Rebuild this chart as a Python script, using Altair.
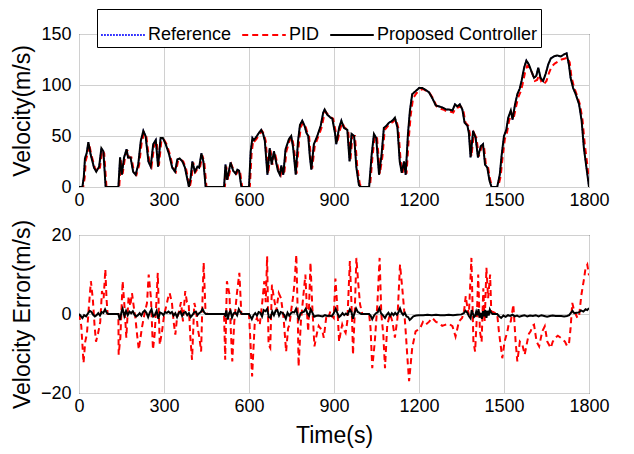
import altair as alt
import pandas as pd

# ---------------- data ----------------
series_names = ["Reference", "PID", "Proposed Controller"]
x_ticks = [0, 300, 600, 900, 1200, 1500, 1800]
v_ticks = [0, 50, 100, 150]
e_ticks = [-20, 0, 20]

ref_t = [0, 12, 17, 21, 27, 33, 41, 53, 61, 71,
         79, 86, 94, 139, 145, 151, 159, 168, 173, 182,
         191, 200, 209, 218, 227, 235, 245, 253, 262, 271,
         279, 288, 296, 306, 318, 329, 339, 347, 355, 365,
         374, 388, 394, 400, 409, 418, 424, 432, 439, 447,
         512, 517, 523, 535, 544, 553, 559, 565, 573, 600,
         606, 612, 617, 623, 635, 643, 650, 656, 665, 673,
         680, 688, 696, 702, 709, 714, 721, 729, 741, 749,
         756, 765, 773, 780, 788, 796, 803, 809, 815, 820,
         829, 841, 853, 862, 867, 876, 888, 894, 904, 908,
         918, 926, 935, 947, 955, 962, 971, 979, 988, 994,
         1024, 1033, 1041, 1049, 1059, 1068, 1076, 1085, 1094, 1106,
         1115, 1124, 1132, 1139, 1147, 1153, 1161, 1168, 1176, 1188,
         1200, 1212, 1224, 1235, 1249, 1259, 1271, 1282, 1296, 1306,
         1318, 1327, 1335, 1344, 1353, 1361, 1371, 1376, 1382, 1391,
         1400, 1408, 1418, 1426, 1433, 1441, 1449, 1456, 1476, 1485,
         1492, 1500, 1508, 1515, 1524, 1530, 1539, 1547, 1555, 1562,
         1571, 1579, 1588, 1596, 1606, 1614, 1621, 1629, 1638, 1647,
         1656, 1665, 1676, 1688, 1700, 1712, 1721, 1729, 1735, 1744,
         1753, 1765, 1774, 1782, 1791, 1800]
ref_v = [0, 0, 10, 28, 33, 44, 32, 19, 15, 20,
         38, 35, 0, 0, 29, 12, 29, 37, 29, 29,
         15, 12, 22, 45, 55, 50, 25, 20, 42, 46,
         20, 48, 48, 42, 32, 19, 15, 27, 28, 25,
         19, 0, 9, 25, 15, 20, 19, 33, 25, 0,
         0, 22, 7, 24, 16, 13, 17, 16, 0, 0,
         35, 48, 46, 48, 53, 56, 52, 45, 12, 38,
         22, 35, 24, 16, 12, 21, 12, 37, 47, 50,
         38, 12, 45, 61, 65, 60, 53, 50, 29, 17,
         42, 50, 60, 73, 76, 71, 68, 67, 52, 42,
         58, 65, 58, 56, 25, 52, 50, 19, 2, 0,
         0, 32, 52, 48, 12, 32, 58, 60, 63, 65,
         68, 58, 25, 14, 25, 12, 52, 75, 91, 94,
         97, 97, 95, 93, 86, 80, 79, 78, 76, 76,
         75, 81, 79, 81, 76, 63, 60, 53, 29, 55,
         48, 29, 40, 42, 22, 19, 6, 0, 0, 12,
         32, 50, 56, 68, 75, 66, 81, 91, 96, 104,
         117, 124, 120, 114, 107, 109, 117, 107, 104, 111,
         120, 126, 128, 129, 128, 130, 131, 120, 107, 97,
         91, 81, 65, 38, 19, 0]
prop_v = [0, 0, 10, 28, 33, 44, 32, 19, 15, 20,
          38, 35, 0, 0, 29, 12, 29, 37, 29, 29,
          15, 12, 22, 45, 55, 50, 25, 20, 42, 46,
          20, 48, 48, 42, 32, 19, 15, 27, 28, 25,
          19, 0, 9, 25, 15, 20, 19, 33, 25, 0,
          0, 22, 7, 24, 16, 13, 17, 16, 0, 0,
          35, 48, 46, 48, 53, 56, 52, 45, 12, 38,
          22, 35, 24, 16, 12, 21, 12, 37, 47, 50,
          38, 12, 45, 61, 65, 60, 53, 50, 29, 17,
          42, 50, 60, 73, 76, 71, 68, 67, 52, 42,
          58, 65, 58, 56, 25, 52, 50, 19, 2, 0,
          0, 32, 52, 48, 12, 32, 58, 60, 63, 65,
          68, 58, 25, 14, 25, 12, 52, 75, 91, 94,
          97, 97, 95, 93, 86, 80, 79, 78, 76, 76,
          75, 81, 79, 81, 76, 63, 60, 53, 29, 55,
          48, 29, 40, 42, 22, 19, 6, 0, 0, 12,
          32, 50, 56, 68, 75, 66, 81, 91, 96, 104,
          117, 124, 120, 114, 107, 109, 117, 107, 104, 111,
          120, 126, 128, 129, 128, 130, 131, 120, 107, 97,
          91, 81, 65, 38, 19, 0]

pid_t = [0, 15, 20, 24, 30, 36, 44, 56, 64, 74,
         82, 89, 97, 142, 148, 154, 162, 171, 176, 185,
         194, 203, 212, 221, 230, 238, 248, 256, 265, 274,
         282, 291, 299, 309, 321, 332, 342, 350, 358, 368,
         377, 391, 397, 403, 412, 421, 427, 435, 442, 450,
         515, 520, 526, 538, 547, 556, 562, 568, 576, 603,
         609, 615, 620, 626, 638, 646, 653, 659, 668, 676,
         683, 691, 699, 705, 712, 717, 724, 732, 744, 752,
         759, 768, 776, 783, 791, 799, 806, 812, 818, 823,
         832, 844, 856, 865, 870, 879, 891, 897, 907, 911,
         921, 929, 938, 950, 958, 965, 974, 982, 991, 997,
         1027, 1036, 1044, 1052, 1062, 1071, 1079, 1088, 1097, 1109,
         1118, 1127, 1135, 1142, 1150, 1156, 1164, 1171, 1179, 1191,
         1203, 1215, 1227, 1238, 1252, 1262, 1274, 1285, 1299, 1309,
         1321, 1330, 1338, 1347, 1356, 1364, 1374, 1379, 1385, 1394,
         1403, 1411, 1421, 1429, 1436, 1444, 1452, 1459, 1479, 1488,
         1495, 1503, 1511, 1518, 1527, 1533, 1542, 1550, 1558, 1565,
         1574, 1582, 1591, 1599, 1609, 1617, 1624, 1632, 1641, 1650,
         1659, 1668, 1679, 1691, 1703, 1715, 1724, 1732, 1738, 1747,
         1756, 1768, 1777, 1785, 1794, 1800]
pid_v = [0, 0, 9, 26, 32, 42, 31, 19, 15, 19,
         36, 33, 0, 0, 27, 13, 28, 36, 29, 29,
         15, 12, 21, 43, 53, 49, 25, 20, 40, 45,
         21, 46, 47, 42, 32, 19, 15, 26, 27, 25,
         19, 0, 8, 24, 15, 19, 19, 31, 25, 0,
         0, 20, 7, 22, 16, 13, 16, 16, 0, 0,
         32, 46, 45, 47, 52, 55, 52, 45, 13, 36,
         22, 34, 24, 16, 12, 20, 12, 35, 46, 49,
         38, 13, 43, 59, 63, 60, 53, 50, 30, 18,
         40, 49, 58, 70, 74, 71, 68, 67, 53, 43,
         56, 63, 58, 56, 26, 50, 50, 20, 3, 0,
         0, 30, 50, 48, 13, 30, 56, 59, 62, 64,
         67, 58, 26, 14, 24, 13, 48, 71, 87, 92,
         95, 96, 94, 92, 86, 79, 77, 76, 74, 74,
         73, 78, 78, 79, 76, 63, 60, 53, 30, 53,
         48, 30, 39, 41, 22, 19, 6, 0, 0, 10,
         29, 47, 54, 65, 72, 66, 78, 88, 93, 100,
         112, 119, 117, 112, 104, 105, 110, 103, 101, 104,
         112, 118, 121, 123, 125, 126, 127, 122, 108, 98,
         91, 81, 66, 42, 22, 5]

pid_err_t = [0, 8, 16, 22, 28, 35, 42, 49, 55, 60,
             67, 75, 81, 87, 93, 97, 101, 139, 140, 146,
             154, 161, 167, 175, 181, 187, 193, 199, 205, 211,
             217, 222, 231, 240, 246, 254, 261, 267, 273, 278,
             285, 293, 301, 308, 314, 320, 328, 334, 340, 346,
             352, 360, 367, 375, 381, 387, 393, 399, 407, 413,
             419, 425, 431, 436, 440, 446, 452, 512, 516, 522,
             531, 536, 541, 548, 557, 566, 573, 600, 605, 611,
             620, 628, 638, 646, 654, 659, 664, 669, 675, 681,
             687, 696, 705, 713, 722, 731, 738, 743, 749, 755,
             760, 767, 772, 775, 783, 791, 799, 805, 809, 817,
             823, 831, 840, 846, 852, 858, 864, 873, 880, 887,
             893, 899, 905, 912, 918, 924, 929, 935, 941, 947,
             956, 961, 965, 967, 973, 979, 985, 992, 1000, 1024,
             1029, 1035, 1044, 1053, 1061, 1067, 1074, 1080, 1088, 1098,
             1106, 1115, 1124, 1133, 1141, 1147, 1153, 1159, 1165, 1176,
             1188, 1204, 1214, 1224, 1235, 1247, 1260, 1271, 1282, 1294,
             1306, 1318, 1329, 1341, 1352, 1359, 1365, 1370, 1376, 1385,
             1392, 1398, 1404, 1409, 1415, 1421, 1427, 1432, 1438, 1444,
             1451, 1455, 1476, 1482, 1494, 1502, 1512, 1518, 1524, 1533,
             1541, 1547, 1556, 1565, 1573, 1582, 1588, 1594, 1600, 1606,
             1615, 1624, 1635, 1644, 1653, 1665, 1672, 1682, 1690, 1700,
             1708, 1715, 1722, 1729, 1735, 1741, 1747, 1753, 1759, 1765,
             1773, 1782, 1788, 1794, 1800]
pid_err_v = [0, -3, -12.4, -7, -5, 2, 8.3, 3.6, -3, -7,
             -5, -2, 5.8, 4, 11.3, 4, 0, 0, -10.3, -6,
             8.3, 1.5, -6, 4.5, 2, 5.3, 2, -1, -5.2, -9,
             -6, -3.5, 0, 2.8, 10, 4, -9, -5.2, 3, 10.4,
             -7.8, -4.4, 0, 2, 4, 5.3, 2.8, -2, -5.2, -1,
             0.3, 3, -1.9, 5.8, 3, 2.8, -6, -11.6, 2.8, 1,
             -3.6, -6, -9.5, 4, 13, 1.5, 0, 0, -11.6, 8.3,
             5, -4.4, -12, -2, 5, 10.4, 0, 0, -7, -15.8,
             -2.7, -1, -2.7, 2.4, 8.3, 3, 14.6, -7.8, -8.6, 7.4,
             4.5, 0.7, 5.3, 4, -1, -9.5, -3.6, -2.7, 1, 4,
             7.4, 15, 0, -13.3, -2, 4, 10, 0, -4.4, 13,
             2.4, -8.2, -4.8, -3, -3.6, -4, -6, -0.6, -1, 0.7,
             -0.5, -1, 9, 1.5, -7, -4.4, -2.7, -4, -4.8, -1.9,
             13.4, 4, -4.4, -10.3, 0, 14.2, 8.3, 2.4, 0, 0,
             -3.6, -13.7, -7, 2.4, 14.2, 0, -5.2, -13.7, -2.7, 0,
             -1.9, -6, -1, 12.5, 6.5, 1.5, -4.4, -11, -17, -8.6,
             -4.4, -3.6, -2, -2.7, -2, -1, -2, -2.3, -3, -2.7,
             -2.5, -3.1, -5.7, -1.9, -1, 0.7, 4.5, 2, -0.2, 14.2,
             -7, -9.5, -1, 10, -4.4, -7, 6.5, -1.9, 11.7, 4,
             10, 0.7, 0, -4.4, -11.2, -7, -4.4, -2, -1.9, 2.4,
             -7, -12, -7, -7.8, -10.3, -7, -5, -4.4, -3, -2.7,
             -7, -8.2, -4.4, -3.1, -7, -8.6, -7, -6, -5.5, -6,
             -6.5, -7, -8, -7.8, -3.6, 2.8, 1, 0, -1, -0.6,
             4.8, 8.7, 11.7, 12.5, 9.8]

prop_err_t = [0, 6, 12, 18, 25, 32, 38, 44, 50, 56,
              62, 68, 74, 80, 86, 92, 98, 104, 139, 144,
              150, 154, 160, 166, 172, 178, 184, 190, 196, 202,
              208, 214, 220, 226, 232, 238, 244, 250, 256, 262,
              268, 274, 280, 286, 292, 298, 304, 310, 316, 322,
              328, 334, 340, 346, 352, 358, 364, 370, 376, 382,
              388, 394, 400, 406, 412, 418, 424, 430, 436, 442,
              448, 512, 516, 520, 525, 530, 535, 540, 546, 552,
              558, 564, 570, 575, 600, 605, 610, 616, 622, 628,
              634, 640, 646, 652, 658, 664, 670, 676, 682, 688,
              694, 700, 706, 712, 718, 724, 730, 736, 742, 748,
              754, 760, 766, 772, 776, 782, 788, 794, 800, 806,
              812, 818, 824, 830, 836, 844, 852, 860, 868, 876,
              884, 892, 900, 906, 912, 918, 924, 930, 936, 942,
              948, 956, 962, 967, 972, 978, 984, 990, 996, 1024,
              1030, 1035, 1042, 1048, 1054, 1060, 1066, 1072, 1080, 1086,
              1092, 1098, 1104, 1110, 1116, 1122, 1128, 1133, 1138, 1144,
              1150, 1156, 1162, 1167, 1172, 1180, 1190, 1200, 1215, 1230,
              1245, 1260, 1275, 1290, 1305, 1320, 1335, 1350, 1358, 1364,
              1370, 1376, 1382, 1386, 1390, 1394, 1398, 1402, 1406, 1410,
              1414, 1418, 1422, 1426, 1430, 1434, 1438, 1442, 1446, 1450,
              1455, 1460, 1476, 1482, 1490, 1498, 1506, 1514, 1522, 1530,
              1538, 1546, 1554, 1562, 1572, 1582, 1592, 1602, 1612, 1622,
              1632, 1642, 1652, 1662, 1672, 1682, 1692, 1702, 1712, 1722,
              1730, 1736, 1742, 1748, 1756, 1764, 1772, 1780, 1788, 1794,
              1800]
prop_err_v = [0, -0.5, -1.0, -0.3, -0.6, 0.2, 0.8, 0.5, -0.2, -0.6,
              -0.3, 0.2, -0.4, 0.5, 0.3, 1.2, 0.3, 0, 0, -1.5,
              0.5, 1.3, -0.5, 0.8, -0.3, 0.6, 0.2, 0.7, -0.2, -0.6,
              -0.3, 0.2, -0.4, 0.5, 0.9, 0.3, -0.8, 0.4, 1.2, -0.6,
              -0.2, 0.8, -1.2, 0.4, 0.2, -0.3, 0.5, 0.3, 0.6, 0.2,
              0.5, -0.4, 0.2, -0.8, 0.3, 0.6, -0.5, 0.3, 0.5, -0.3,
              0.2, -0.8, -0.3, 0.4, 0.6, -0.3, 0.2, 0.5, 1.3, 0.4,
              0, 0, -0.4, 0.9, -1.4, 0.3, 0.8, -0.9, 0.2, 0.4,
              -0.3, 1.2, 0.4, 0, 0, -0.6, -1.3, -0.3, 0.2, -0.4,
              0.5, 0.3, -0.6, 1.0, 0.7, 1.3, -0.8, -1.0, 0.6, -0.3,
              0.8, 1.0, -0.4, 0.5, 0.3, -0.2, -1.2, 0.3, -0.4, 0.2,
              0.5, 0.4, 1.3, -0.4, -1.2, 0.2, 0.4, 0.6, 1.3, 0.2,
              -0.4, 1.2, 0.3, -0.7, -0.5, -0.4, -0.5, -0.6, -0.3, -0.5,
              -0.4, -0.6, 0.3, 1.3, 0.2, -0.8, -0.4, 0.2, -0.3, 0.1,
              -0.2, 1.2, 0.4, -1.2, 0.2, 1.4, 0.5, 0.3, 0, 0,
              -0.5, -1.3, -0.3, 0.2, 0.4, 1.5, 0.2, -0.3, -1.0, -0.2,
              0.3, -0.5, 0.2, -0.3, 0.3, -0.2, 0.5, 1.4, 0.4, -0.2,
              0.3, -0.6, -0.8, -1.5, -1.2, -0.6, -0.4, -0.3, -0.3, -0.2,
              -0.3, -0.2, -0.3, -0.3, -0.2, -0.3, -0.2, -0.1, 0.2, 0.8,
              0.4, -0.5, -1.1, 1.0, 0.2, -0.8, -0.5, 0.6, -0.3, 1.2,
              -0.9, 0.3, -1.2, 0.7, -0.6, 1.0, -1.0, 0.8, -0.4, 1.1,
              0.3, 0, 0, -0.5, -1.0, -0.4, -0.7, -0.3, -0.5, -0.2,
              -0.6, -0.4, -0.7, -0.5, -0.3, -0.6, -0.4, -0.5, -0.3, -0.6,
              -0.3, -0.5, -0.7, -0.5, -0.4, -0.5, -0.5, -0.5, -0.6, -0.5,
              -0.3, 0.3, 0.8, 0.2, 0.3, 0.4, 0.9, 0.6, 1.2, 1.0,
              1.5]

# ---------------- tables ----------------
vel_df = pd.concat([
    pd.DataFrame({"t": ref_t, "v": ref_v, "series": "Reference"}),
    pd.DataFrame({"t": pid_t, "v": pid_v, "series": "PID"}),
    pd.DataFrame({"t": ref_t, "v": prop_v, "series": "Proposed Controller"}),
], ignore_index=True)
err_df = pd.concat([
    pd.DataFrame({"t": pid_err_t, "e": pid_err_v, "series": "PID"}),
    pd.DataFrame({"t": prop_err_t, "e": prop_err_v, "series": "Proposed Controller"}),
], ignore_index=True)

FONT = "Liberation Sans"
colors = ["#0000ff", "#ff0000", "#000000"]
dashes = [[1.5, 1.5], [6, 4], [1, 0]]
widths = [1.5, 2, 2]

legend = alt.Legend(
    title=None, orient="none", legendX=18, legendY=-25, direction="horizontal",
    columns=3, strokeColor="black", fillColor="white", padding=3,
    labelFont=FONT, labelFontSize=18, labelColor="black", labelOffset=2,
    labelLimit=400,
    symbolType="stroke", symbolSize=1900, symbolStrokeWidth=2, columnPadding=6,
    cornerRadius=0,
)

xscale = alt.Scale(domain=[0, 1800], nice=False)

def x_enc(title):
    return alt.X("t:Q", scale=xscale,
                 axis=alt.Axis(values=x_ticks, title=title, format="d", labelPadding=4,
                               titlePadding=9, labelFlush=False))

top_layers = []
for name, w in zip(series_names, widths):
    top_layers.append(
        alt.Chart(vel_df).transform_filter(alt.datum.series == name)
        .mark_line(strokeWidth=w, clip=True)
        .encode(
            x=x_enc(None),
            y=alt.Y("v:Q", scale=alt.Scale(domain=[0, 150], nice=False),
                    axis=alt.Axis(values=v_ticks, title="Velocity(m/s)", labelPadding=8,
                                  titlePadding=6)),
            color=alt.Color("series:N", scale=alt.Scale(domain=series_names, range=colors), legend=legend),
            strokeDash=alt.StrokeDash("series:N", scale=alt.Scale(domain=series_names, range=dashes), legend=legend),
            order=alt.Order("t:Q"),
        )
    )
top = alt.layer(*top_layers).properties(width=510, height=153)

pid_err = (alt.Chart(err_df).transform_filter(alt.datum.series == "PID")
           .mark_line(color="#ff0000", strokeWidth=2, strokeDash=[6, 4], clip=True)
           .encode(x=x_enc("Time(s)"),
                   y=alt.Y("e:Q", scale=alt.Scale(domain=[-20, 20], nice=False),
                           axis=alt.Axis(values=e_ticks, title="Velocity Error(m/s)", labelPadding=8,
                                         titlePadding=6)),
                   order=alt.Order("t:Q")))
prop_err = (alt.Chart(err_df).transform_filter(alt.datum.series == "Proposed Controller")
            .mark_line(color="#000000", strokeWidth=2, clip=True)
            .encode(x=x_enc("Time(s)"), y=alt.Y("e:Q"), order=alt.Order("t:Q")))
bottom = alt.layer(pid_err, prop_err).properties(width=510, height=158)

chart = (
    alt.vconcat(top, bottom, spacing=8)
    .resolve_scale(color="independent", strokeDash="independent")
    .properties(padding={"left": 2, "top": 0, "right": 5, "bottom": 2})
    .configure_view(stroke="black", strokeWidth=1)
    .configure_axis(
        labelFont=FONT, titleFont=FONT, labelFontSize=18, titleFontSize=23,
        labelColor="black", titleColor="black", titleFontWeight="normal",
        domain=False, ticks=False, grid=True, gridColor="#d0d0d0", gridWidth=1,
    )
)

chart.save("out.html", embed_options={"renderer": "svg", "actions": False})
